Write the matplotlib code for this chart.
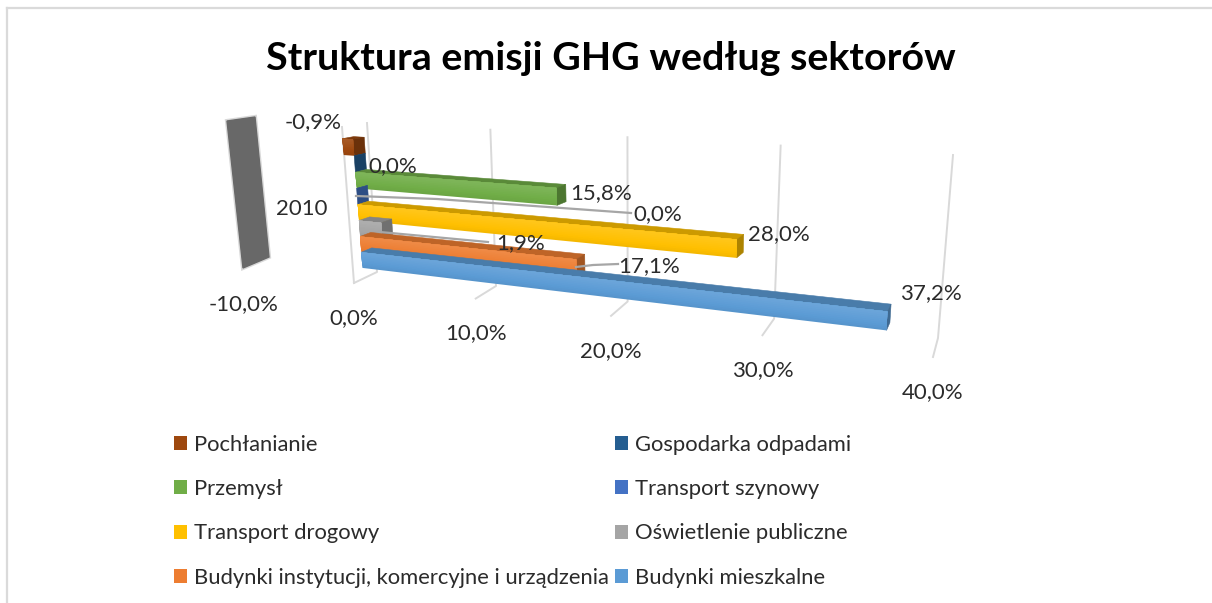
import numpy as np
import matplotlib
matplotlib.use("Agg")
import matplotlib.pyplot as plt
from matplotlib.colors import to_rgb
from matplotlib.patches import Patch

W, H = 1212, 603
plt.rcParams['font.family'] = ['Lato', 'DejaVu Sans']

title = "Struktura emisji GHG według sektorów"
category = "2010"
series = ["Budynki mieszkalne", "Budynki instytucji, komercyjne i urządzenia",
          "Oświetlenie publiczne", "Transport drogowy", "Transport szynowy",
          "Przemysł", "Gospodarka odpadami", "Pochłanianie"]
values = [37.2, 17.1, 1.9, 28.0, 0.0, 15.8, 0.0, -0.9]
value_labels = ["37,2%", "17,1%", "1,9%", "28,0%", "0,0%", "15,8%", "0,0%", "-0,9%"]
colors = ["#5B9BD5", "#ED7D31", "#A5A5A5", "#FFC000", "#4472C4", "#70AD47", "#255E91", "#9E480E"]
tick_values = [-10, 0, 10, 20, 30, 40]
tick_labels = ["-10,0%", "0,0%", "10,0%", "20,0%", "30,0%", "40,0%"]

# position of each data label (pixels) and its leader line, if any
label_pos = [(931, 293), (649, 266), (521, 243), (779, 234), (658, 214), (601, 193), (393, 166), (313, 122)]
leaders = {1: [(576, 267), (593, 265), (618, 264)],
           2: [(380, 232), (488, 242)],
           4: [(356, 196), (437, 199), (631, 213)]}

# 3D box corners in pixels: (value 0, floor), (value 40, floor), (value 40, top), (value 0, top)
FRONT = np.array([(354, 283), (933, 357), (941, 163), (342, 127)], float)
BACK = np.array([(377, 272), (938, 338), (953, 155), (367, 123)], float)
D0, D1 = 0.40, 0.85          # depth of the bar's front and back faces
H_BASE, H_STEP = 0.072, 0.105


def project(v, h, d):
    """Perspective map of value v, height h in [0, 1], depth d in [0, 1]."""
    p = FRONT * (1 - d) + BACK * d
    (x0, y0), (x1, y1), (x2, y2), (x3, y3) = p
    dx1, dx2, sx = x1 - x2, x3 - x2, x0 - x1 + x2 - x3
    dy1, dy2, sy = y1 - y2, y3 - y2, y0 - y1 + y2 - y3
    den = dx1 * dy2 - dx2 * dy1
    g = (sx * dy2 - dx2 * sy) / den
    k = (dx1 * sy - sx * dy1) / den
    u = v / 40.0
    w = g * u + k * h + 1
    return ((x1 - x0 + g * x1) * u + (x3 - x0 + k * x3) * h + x0) / w, \
           ((y1 - y0 + g * y1) * u + (y3 - y0 + k * y3) * h + y0) / w


def shade(c, f):
    r = np.array(to_rgb(c))
    return tuple(np.clip(r * f if f < 1 else r + (1 - r) * (f - 1), 0, 1))


fig = plt.figure(figsize=(W / 100, H / 100), dpi=100, facecolor="white")
ax = fig.add_axes([0, 0, 1, 1])
ax.set_xlim(0, W)
ax.set_ylim(H, 0)
ax.axis("off")

# frame of the screenshot
ax.plot([7, 7], [8, H], color="#DADADA", lw=1.6, zorder=1)
ax.plot([7, W], [8, 8], color="#DADADA", lw=1.6, zorder=1)

# soft, grey, slanted axis-title block
block_x = [227, 255, 269, 243]
block_y = [121, 117, 257, 268]
ax.fill(block_x, block_y, facecolor="none", edgecolor="#676767", lw=3.0, alpha=0.25, zorder=2)
ax.fill(block_x, block_y, facecolor="#686868", edgecolor="#686868", lw=1.0, zorder=2)

# grid
grid = "#D9D9D9"
for t in tick_values[1:]:
    xa, ya = project(t, 0, 1)
    xb, yb = project(t, 1, 1)
    xc, yc = project(t, 0, 0)
    ax.plot([xb, xa, xc], [yb, ya, yc], color=grid, lw=1.4, zorder=2)
xa, ya = project(0, 1, 0)
xb, yb = project(0, 0, 0)
ax.plot([xa, xb], [ya, yb], color=grid, lw=1.4, zorder=2)

# bars, furthest up first so the lower ones overlap them
for i in range(len(values) - 1, -1, -1):
    v, c = values[i], colors[i]
    h0, h1 = H_BASE + H_STEP * i, H_BASE + H_STEP * (i + 1)
    z = 10 + (len(values) - i)
    vmax = max(v, 0)
    vmin = min(v, 0)
    # top face
    pts = [project(vmin, h1, D0), project(vmax, h1, D0),
           project(vmax, h1, D1), project(vmin, h1, D1)]
    ax.fill(*zip(*pts), facecolor=shade(c, 0.80), edgecolor=shade(c, 0.80), lw=0.4, zorder=z)
    # end face
    pts = [project(vmax, h0, D0), project(vmax, h1, D0), project(vmax, h1, D1), project(vmax, h0, D1)]
    ax.fill(*zip(*pts), facecolor=shade(c, 0.68), edgecolor=shade(c, 0.68), lw=0.4, zorder=z)
    # front face with a soft vertical gradient: painted bottom-up, each layer
    # reaching the top edge, so the layers leave no seams
    if v != 0:
        n = 10
        for k in range(n):
            a = h0 + (h1 - h0) * k / n
            col = shade(c, 0.96 + 0.14 * (k / (n - 1)))
            pts = [project(vmin, a, D0), project(vmax, a, D0), project(vmax, h1, D0), project(vmin, h1, D0)]
            ax.fill(*zip(*pts), facecolor=col, edgecolor="none", zorder=z + 0.1)

# leader lines
for i, line in leaders.items():
    ax.plot(*zip(*line), color="#A6A6A6", lw=1.6, zorder=30)

# data labels
txt = "#2B2B2B"
fs = 16
for (x, y), s in zip(label_pos, value_labels):
    ax.text(x, y, s, ha="center", va="center", fontsize=fs, color=txt, zorder=31)

# value axis labels, placed below the front floor line
for t, s in zip(tick_values, tick_labels):
    x, y = project(t, 0, 0)
    ax.text(x, y + 35, s, ha="center", va="center", fontsize=fs, color=txt, zorder=31)

ax.text(302, 209, category, ha="center", va="center", fontsize=fs, color=txt, zorder=31)
ax.text(611, 58, title, ha="center", va="center", fontsize=28.4, fontweight="bold", color="black")

# legend: fills column by column
order = [7, 5, 3, 1, 6, 4, 2, 0]
handles = [Patch(facecolor=colors[i], edgecolor="none", label=series[i]) for i in order]
leg = ax.legend(handles=handles, ncols=2, loc="upper left", bbox_to_anchor=(174 / W, 1 - 435 / H),
                bbox_transform=fig.transFigure, frameon=False, fontsize=15.85, labelcolor=txt,
                handlelength=0.59, handleheight=0.6, handletextpad=0.3, columnspacing=0.3,
                labelspacing=1.1, borderaxespad=0, borderpad=0)

fig.savefig("out.png", dpi=100, facecolor="white")
